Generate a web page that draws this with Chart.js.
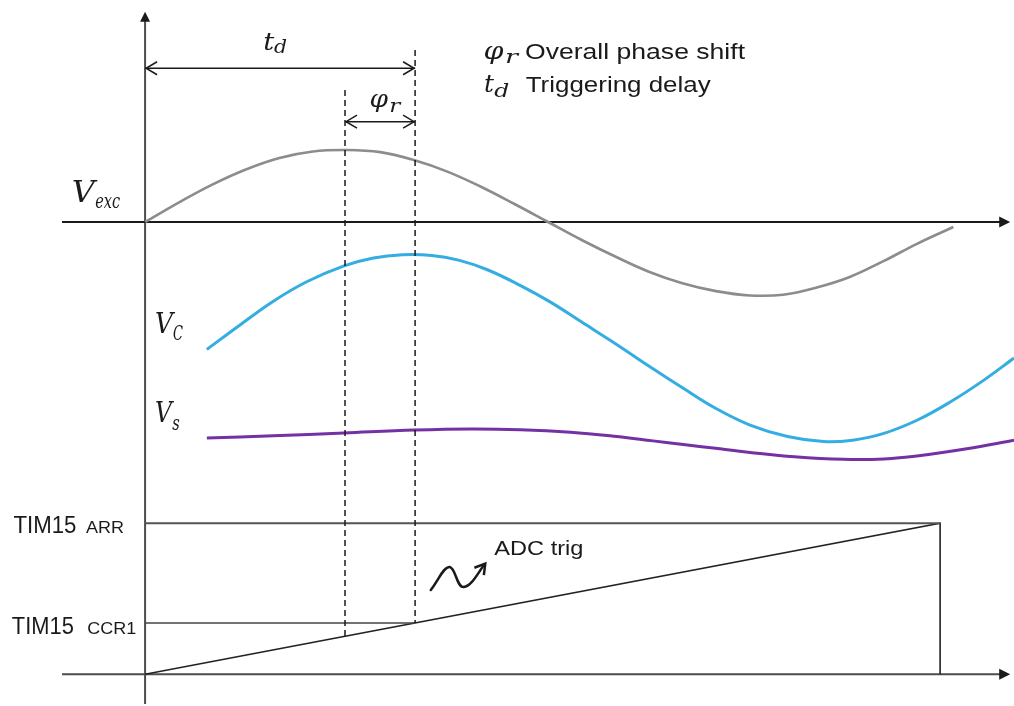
<!DOCTYPE html>
<html>
<head>
<meta charset="utf-8">
<script src="https://cdn.jsdelivr.net/npm/chart.js@4.4.1/dist/chart.umd.min.js"></script>
<style>
	html, body { margin: 0; padding: 0; background: #fff; }
	#wrap { width: 1014px; height: 706px; position: relative; }
</style>
</head>
<body>
<div id="wrap"><canvas id="chart-phase-shift"></canvas></div>
<script>
// x: phase of the excitation signal in degrees, y: signal level (diagram units)
const VEXC_PHASE = [0, 15, 30, 45, 60, 75, 90, 105, 120, 135, 150, 165, 180, 195, 210, 225, 240, 255, 270, 285, 300, 315, 330, 345, 361];
const VEXC = [0, 0.27, 0.52, 0.73, 0.89, 0.98, 1.0, 0.97, 0.86, 0.7, 0.49, 0.25, 0, -0.25, -0.48, -0.69, -0.85, -0.96, -1.02, -1.01, -0.91, -0.76, -0.54, -0.3, -0.07];

const VC_PHASE = [27.6, 42.4, 57.3, 72.2, 88.9, 102, 115, 128, 140, 152.6, 167.5, 180.9, 195, 210.6, 225, 240.4, 255, 270.2, 287, 303, 316, 329.6, 345, 359.6, 374, 388.1];
const VC = [-1.77, -1.43, -1.1, -0.83, -0.61, -0.5, -0.455, -0.465, -0.53, -0.66, -0.88, -1.11, -1.39, -1.7, -2.0, -2.31, -2.59, -2.82, -2.98, -3.05, -3.03, -2.94, -2.75, -2.5, -2.21, -1.89];

const VS_PHASE = [27.6, 57.3, 88.9, 120.6, 145.2, 167.5, 190, 210.7, 226.9, 240.4, 256.8, 270.2, 290, 311.9, 330, 344.7, 367, 388.1];
const VS = [-3.0, -2.97, -2.93, -2.89, -2.875, -2.885, -2.92, -2.98, -3.04, -3.09, -3.15, -3.2, -3.26, -3.295, -3.29, -3.25, -3.15, -3.03];

// timer counter (TIM15), counts in % of ARR
const TIMER_PHASE = [0, 355.1, 355.1];
const TIMER_COUNT = [0, 100, 0];
const TIM_ARR = 100;
const TIM_CCR1 = 34;

// markers
const TRIG_DELAY = 120.6;   // t_d
const PHASE_START = 89.3;   // start of phi_r

const COLORS = {
	exc: "#8c8c8c",
	vc: "#33ade2",
	vs: "#7331a3",
	ink: "#1a1a1a",
	axis: "#4d4d4d",
};

const toPoints = (xs, ys) => xs.map((x, i) => ({ x, y: ys[i] }));

// Text helper, squeezed/stretched to a target width
const drawText = (ctx, str, x, y, font, width) => {
	ctx.save();
	ctx.font = font;
	ctx.fillStyle = COLORS.ink;
	ctx.textBaseline = "alphabetic";
	ctx.textAlign = "left";
	const w = ctx.measureText(str).width;
	ctx.translate(x, y);
	if (width) ctx.scale(width / w, 1);
	ctx.fillText(str, 0, 0);
	ctx.restore();
};

const MATH = (size) => `italic ${size}px "DejaVu Serif"`;
const SANS = (size) => `${size}px "Liberation Sans"`;

const drawLine = (ctx, x1, y1, x2, y2, color, width, dash) => {
	ctx.save();
	ctx.beginPath();
	ctx.strokeStyle = color;
	ctx.lineWidth = width;
	ctx.setLineDash(dash || []);
	ctx.moveTo(x1, y1);
	ctx.lineTo(x2, y2);
	ctx.stroke();
	ctx.restore();
};

// filled triangle head, angle = direction of the arrow
const filledHead = (ctx, x, y, angle, len, half, color) => {
	ctx.save();
	ctx.translate(x, y);
	ctx.rotate(angle);
	ctx.beginPath();
	ctx.moveTo(0, 0);
	ctx.lineTo(-len, -half);
	ctx.lineTo(-len, half);
	ctx.closePath();
	ctx.fillStyle = color;
	ctx.fill();
	ctx.restore();
};

const openHead = (ctx, x, y, angle, len, half, color, width) => {
	ctx.save();
	ctx.translate(x, y);
	ctx.rotate(angle);
	ctx.beginPath();
	ctx.moveTo(-len, -half);
	ctx.lineTo(0, 0);
	ctx.lineTo(-len, half);
	ctx.strokeStyle = color;
	ctx.lineWidth = width;
	ctx.stroke();
	ctx.restore();
};

const axesPlugin = {
	id: "axesPlugin",
	beforeDatasetsDraw(chart) {
		const { ctx, scales: { x, y, y2 } } = chart;
		const x0 = x.getPixelForValue(0);
		// vertical axis
		const top = y.getPixelForValue(2.92);
		drawLine(ctx, x0, y2.getPixelForValue(-19.7), x0, top + 8, COLORS.axis, 2);
		filledHead(ctx, x0, top, -Math.PI / 2, 10, 5, COLORS.ink);
		// signal time axis
		const xs = x.getPixelForValue(-37.1);
		const xe = x.getPixelForValue(386.4);
		const yv = y.getPixelForValue(0);
		drawLine(ctx, xs, yv, xe - 8, yv, COLORS.ink, 2);
		filledHead(ctx, xe, yv, 0, 11, 5.5, COLORS.ink);
		// timer time axis
		const yc = y2.getPixelForValue(0);
		drawLine(ctx, xs, yc, xe - 8, yc, COLORS.axis, 2);
		filledHead(ctx, xe, yc, 0, 11, 5.5, COLORS.ink);
	},
};

const notesPlugin = {
	id: "notesPlugin",
	afterDatasetsDraw(chart) {
		const { ctx, scales: { x, y, y2 } } = chart;
		const px = (t) => x.getPixelForValue(t);
		const pv = (v) => y.getPixelForValue(v);
		const pc = (c) => y2.getPixelForValue(c);

		// dashed markers
		const rampAtStart = TIM_ARR * PHASE_START / TIMER_PHASE[1];
		drawLine(ctx, px(TRIG_DELAY), pv(2.389), px(TRIG_DELAY), pc(TIM_CCR1), COLORS.ink, 1.5, [6, 4]);
		drawLine(ctx, px(PHASE_START), pv(1.833), px(PHASE_START), pc(rampAtStart), COLORS.ink, 1.5, [6, 4]);

		// t_d dimension
		const yd = pv(2.135);
		drawLine(ctx, px(0), yd, px(TRIG_DELAY), yd, COLORS.ink, 1.5);
		openHead(ctx, px(0) + 1, yd, Math.PI, 11, 6.5, COLORS.ink, 1.5);
		openHead(ctx, px(TRIG_DELAY) - 1, yd, 0, 11, 6.5, COLORS.ink, 1.5);
		// phi_r dimension
		const yp = pv(1.393);
		drawLine(ctx, px(PHASE_START), yp, px(TRIG_DELAY), yp, COLORS.ink, 1.5);
		openHead(ctx, px(PHASE_START) + 1, yp, Math.PI, 11, 6.5, COLORS.ink, 1.5);
		openHead(ctx, px(TRIG_DELAY) - 1, yp, 0, 11, 6.5, COLORS.ink, 1.5);

		// math labels
		drawText(ctx, "t", px(52.8), pv(2.389), MATH(25), 11);
		drawText(ctx, "d", px(57.6), pv(2.343), MATH(19), 13);
		drawText(ctx, "φ", px(100.2), pv(1.597), MATH(25), 18.5);
		drawText(ctx, "r", px(109.1), pv(1.532), MATH(19), 11);

		drawText(ctx, "V", px(-32.7), pv(0.282), MATH(30), 23);
		drawText(ctx, "exc", px(-22.3), pv(0.19), MATH(20), 25);
		drawText(ctx, "V", px(4.47), pv(-1.546), MATH(28), 18);
		drawText(ctx, "C", px(12.5), pv(-1.639), MATH(20), 10);
		drawText(ctx, "V", px(4.47), pv(-2.774), MATH(28), 17);
		drawText(ctx, "s", px(12.1), pv(-2.889), MATH(20), 7.5);

		// legend
		drawText(ctx, "φ", px(151.2), pv(2.264), MATH(25), 20);
		drawText(ctx, "r", px(160.8), pv(2.204), MATH(19), 13);
		drawText(ctx, "Overall phase shift", px(169.7), pv(2.264), SANS(22), 220);
		drawText(ctx, "t", px(151.4), pv(1.81), MATH(25), 10);
		drawText(ctx, "d", px(156.0), pv(1.74), MATH(19), 15);
		drawText(ctx, "Triggering delay", px(170.0), pv(1.81), SANS(22), 185);

		// timer labels
		drawText(ctx, "TIM15", px(-58.8), pc(93.4), SANS(23), 63);
		drawText(ctx, "ARR", px(-26.4), pc(93.4), SANS(17), 38);
		drawText(ctx, "TIM15", px(-59.5), pc(26.7), SANS(23), 62);
		drawText(ctx, "CCR1", px(-25.8), pc(26.7), SANS(17), 49);
		drawText(ctx, "ADC trig", px(156.0), pc(79.0), SANS(21), 89);

		// trigger squiggle
		const sx = px(127.6);
		const sy = pc(55.8);
		ctx.save();
		ctx.translate(sx, sy);
		ctx.beginPath();
		ctx.moveTo(0, 0);
		ctx.bezierCurveTo(8, -10, 13, -24, 19, -23);
		ctx.bezierCurveTo(25, -22, 26, -2, 33, -3);
		ctx.bezierCurveTo(41, -4, 47, -17, 54, -26);
		ctx.strokeStyle = COLORS.ink;
		ctx.lineWidth = 2.5;
		ctx.lineCap = "round";
		ctx.stroke();
		ctx.restore();
		openHead(ctx, sx + 54.5, sy - 26.5, Math.atan2(-9, 7), 10, 6, COLORS.ink, 2.5);
	},
};

const lineSet = (label, xs, ys, color, width, axis, tension) => ({
	label,
	data: toPoints(xs, ys),
	borderColor: color,
	borderWidth: width,
	pointRadius: 0,
	tension: tension,
	fill: false,
	yAxisID: axis,
});

const CHART_DATA = {
	datasets: [
		lineSet("Vexc", VEXC_PHASE, VEXC, COLORS.exc, 2.6, "y", 0.4),
		lineSet("VC", VC_PHASE, VC, COLORS.vc, 3, "y", 0.4),
		lineSet("Vs", VS_PHASE, VS, COLORS.vs, 3, "y", 0.4),
		lineSet("ARR", [0, TIMER_PHASE[1]], [TIM_ARR, TIM_ARR], "#555555", 2, "y2", 0),
		lineSet("CCR1", [0, TRIG_DELAY], [TIM_CCR1, TIM_CCR1], "#444444", 1.6, "y2", 0),
		lineSet("Counter", TIMER_PHASE, TIMER_COUNT, "#222222", 1.6, "y2", 0),
	],
};

const CHART_CONFIG = {
	type: "line",
	data: CHART_DATA,
	options: {
		responsive: true,
		maintainAspectRatio: false,
		animation: false,
		layout: { padding: 0 },
		scales: {
			x: { type: "linear", min: -64.8, max: 388.1, display: false },
			y: { type: "linear", min: -6.722, max: 3.083, display: false },
			y2: { type: "linear", min: -21.0, max: 446.6, display: false },
		},
		plugins: {
			legend: { display: false },
			tooltip: { enabled: false },
		},
	},
	plugins: [axesPlugin, notesPlugin],
};

new Chart(document.getElementById("chart-phase-shift"), CHART_CONFIG);
</script>
</body>
</html>
